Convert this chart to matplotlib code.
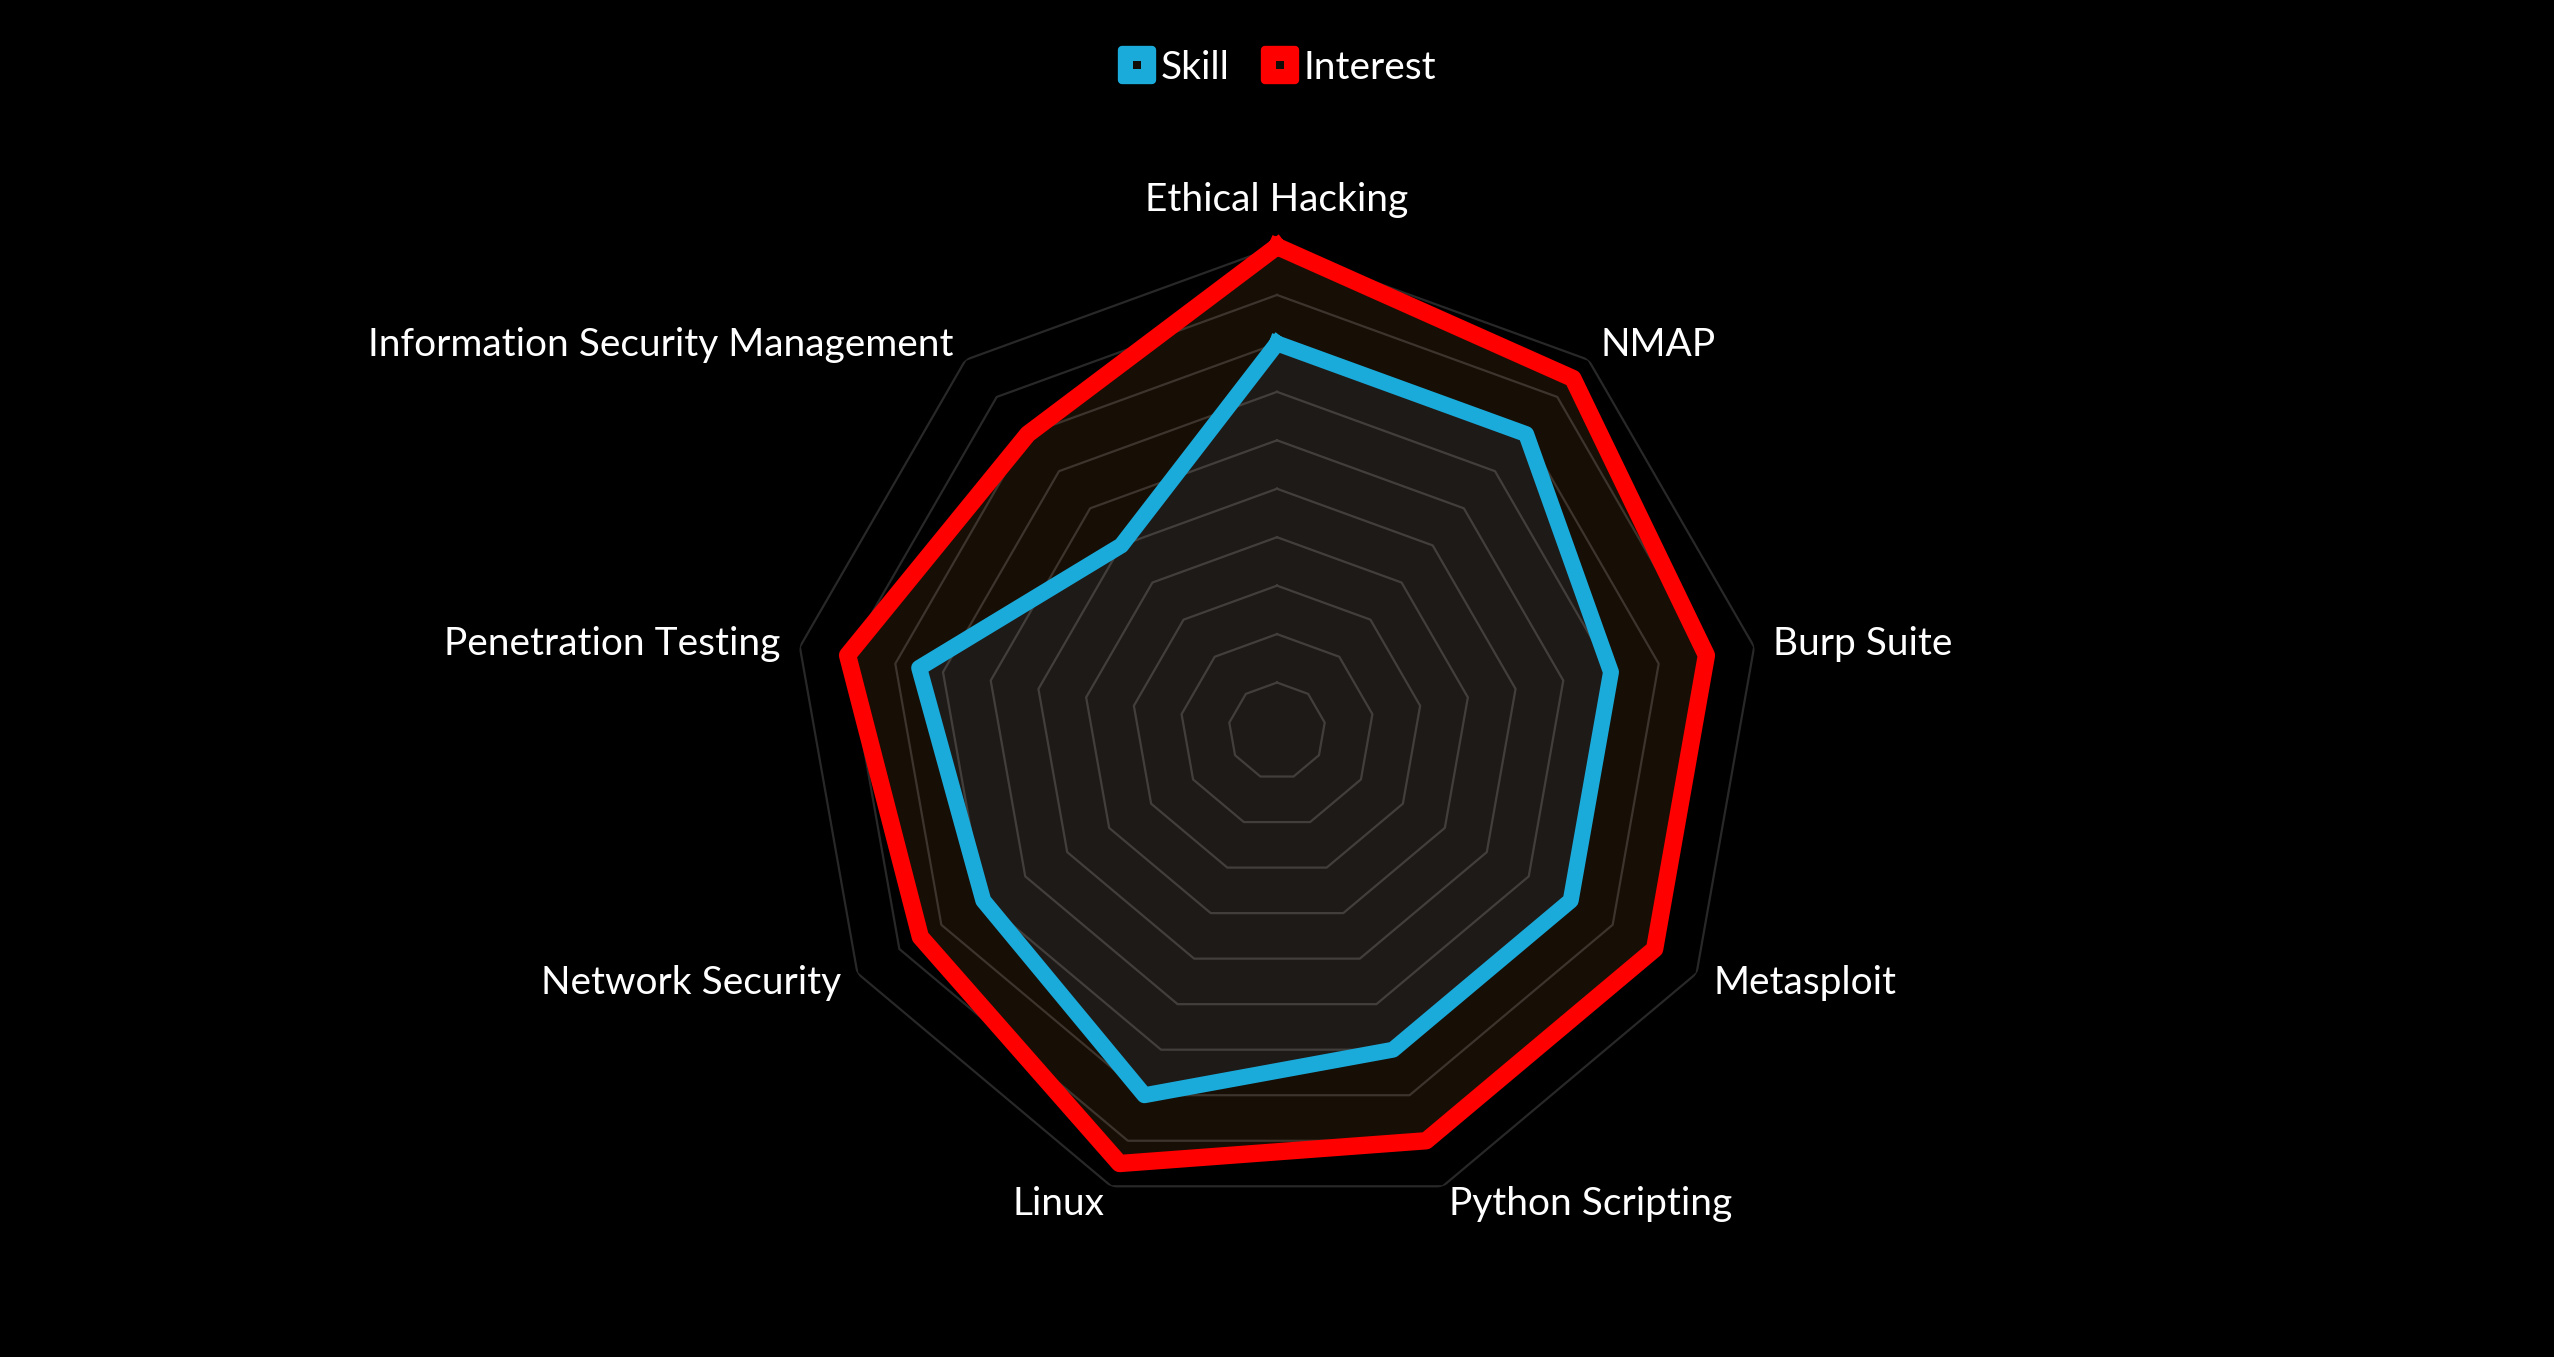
import numpy as np
import matplotlib.pyplot as plt
from matplotlib.lines import Line2D
from matplotlib.markers import MarkerStyle
from matplotlib.legend_handler import HandlerTuple

# data
categories = ["Ethical Hacking", "NMAP", "Burp Suite", "Metasploit", "Python Scripting",
              "Linux", "Network Security", "Penetration Testing", "Information Security Management"]
skill = [8, 8, 7, 7, 7, 8, 7, 7.5, 5]
interest = [10, 9.5, 9, 9, 9, 9.5, 8.5, 9, 8]
series_names = ["Skill", "Interest"]
rings = list(range(1, 11))

blue = "#1AABDB"
red = "#FF0000"

plt.rcParams['font.family'] = ['Lato', 'DejaVu Sans']

W, H = 2554, 1357
fig = plt.figure(figsize=(W / 100, H / 100), dpi=100, facecolor="black")

# polar axes placed so that the chart centre / outer ring match
R_px = 484.5
cx, cy = 1277, H - 731
ax = fig.add_axes([(cx - R_px) / W, (cy - R_px) / H, 2 * R_px / W, 2 * R_px / H], polar=True)
ax.set_facecolor("none")
ax.set_theta_zero_location("N")
ax.set_theta_direction(-1)
ax.set_ylim(0, 10)
ax.grid(False)
ax.set_xticks([])
ax.set_yticks([])
ax.spines['polar'].set_visible(False)

n = len(categories)
ang = np.linspace(0, 2 * np.pi, n, endpoint=False)
ang_c = np.append(ang, ang[0])
sk = np.append(skill, skill[0])
it = np.append(interest, interest[0])

# fills
ax.fill(ang_c, it, color="#170e05", zorder=1, lw=0)
ax.fill(ang_c, sk, color="#1e1a17", zorder=2, lw=0)

# nonagon grid
for r in rings:
    ax.plot(ang_c, [r] * len(ang_c), color="white", alpha=0.16, lw=1.6, zorder=3)

# series lines
ax.plot(ang_c, it, color=red, lw=12.5, solid_joinstyle="round", zorder=5, clip_on=False)
ax.plot(ang_c, sk, color=blue, lw=11.5, solid_joinstyle="round", zorder=6, clip_on=False)

# category labels
for a, lab in zip(ang, categories):
    s = np.sin(a)
    if abs(s) < 1e-6:
        ax.text(a, 10.95, lab, ha="center", va="center", color="white", fontsize=28)
    else:
        ax.text(a, 10.4, lab, ha="left" if s > 0 else "right", va="center",
                color="white", fontsize=28)

# legend: rounded colour square with a small dark square in the middle
handles = []
for col in [blue, red]:
    big = Line2D([], [], ls="none", marker=MarkerStyle("s", joinstyle="round"), markersize=22,
                 markerfacecolor=col, markeredgecolor=col, markeredgewidth=6)
    dot = Line2D([], [], ls="none", marker="s", markersize=5.5,
                 markerfacecolor="#120c08", markeredgewidth=0)
    handles.append((big, dot))
leg = fig.legend(handles, series_names, loc="center", bbox_to_anchor=(0.5, 1 - 68 / H),
                 ncol=2, frameon=False, fontsize=28, labelcolor="white",
                 handler_map={tuple: HandlerTuple(ndivide=1, pad=0)},
                 handletextpad=0.1, columnspacing=0.8, handlelength=1.0)

fig.savefig("out.png", dpi=100, facecolor="black")
